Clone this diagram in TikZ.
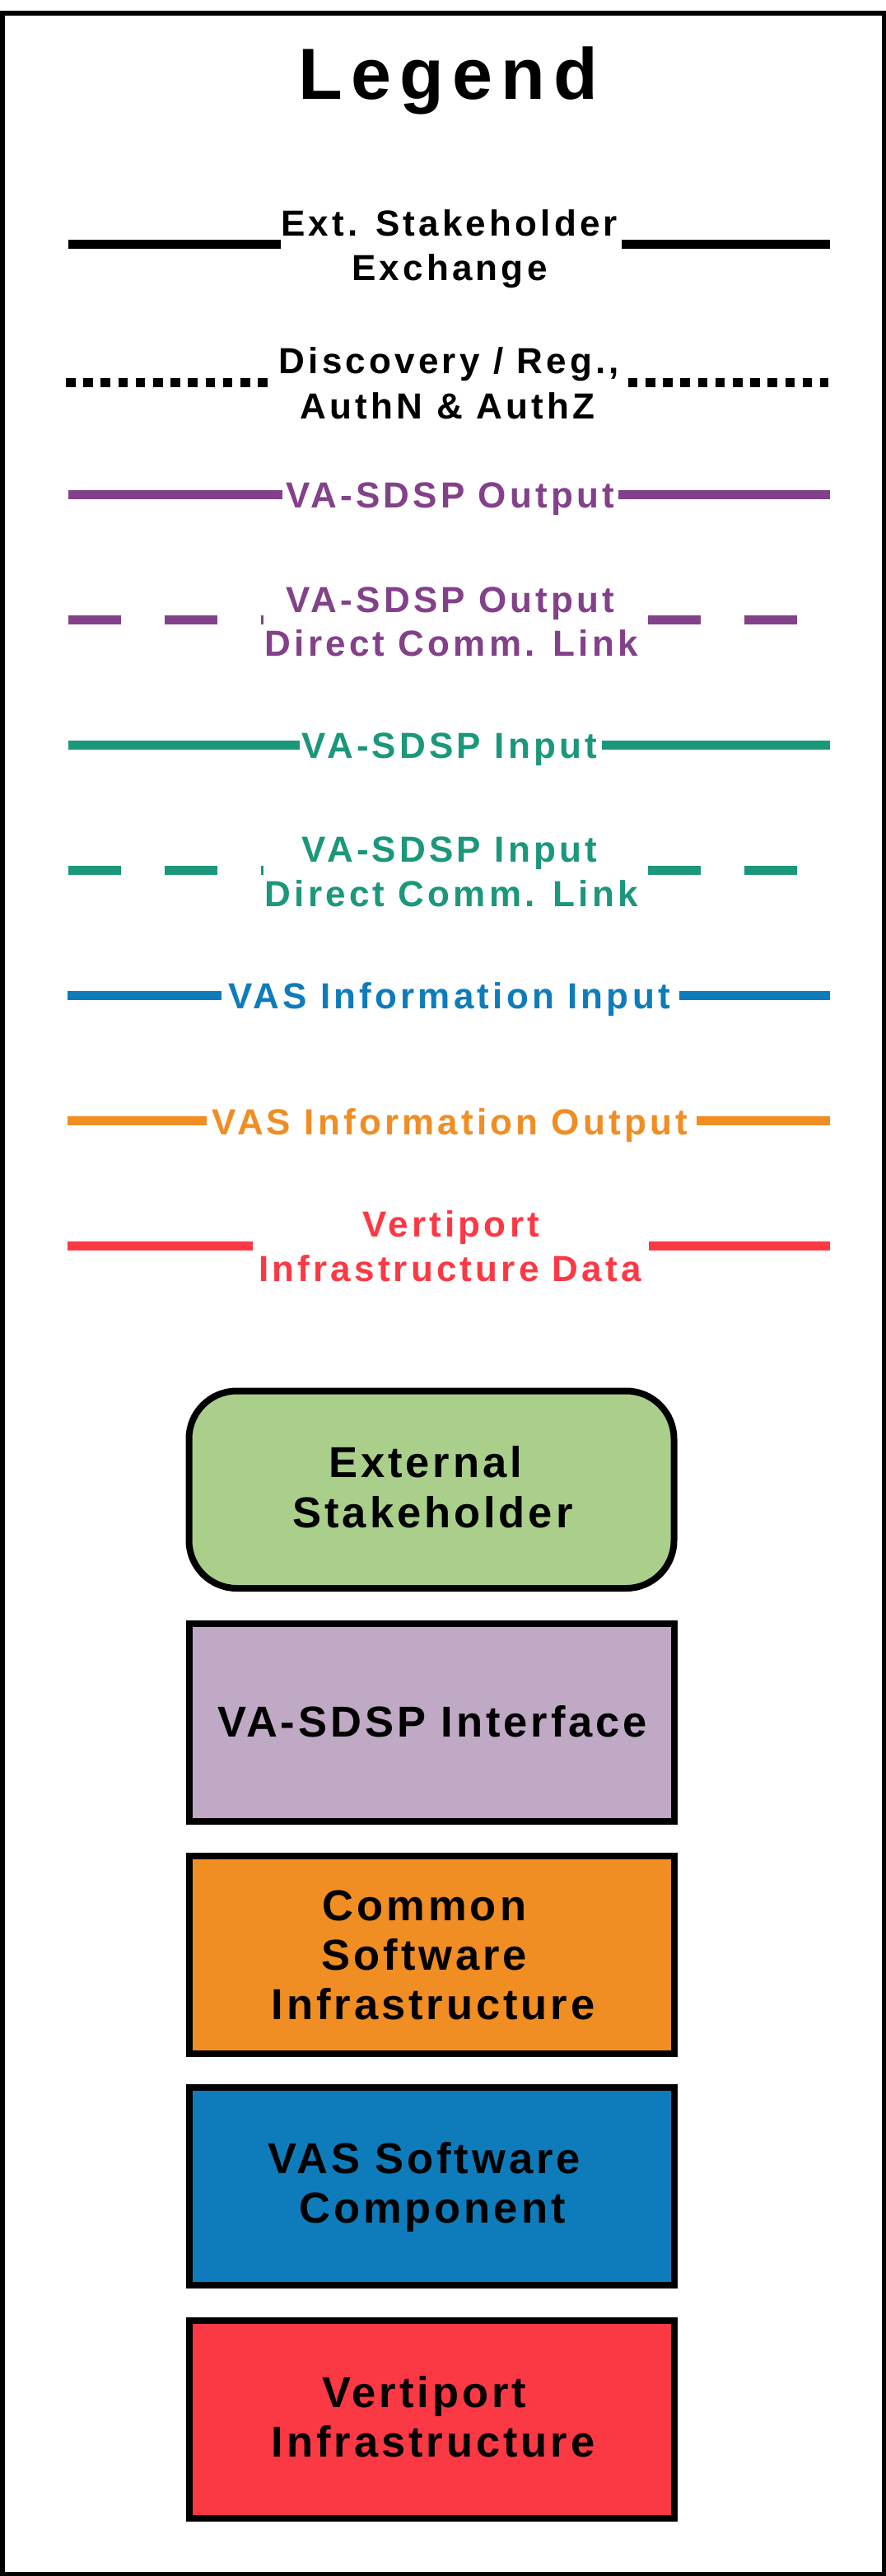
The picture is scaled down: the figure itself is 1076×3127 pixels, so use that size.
\documentclass[tikz,border=0pt]{standalone}
\usepackage{fontspec}
\setmainfont{Liberation Sans}
\newfontfamily\titlefont{Liberation Sans}[LetterSpace=11.5]
\newfontfamily\labelfont{Liberation Sans}[LetterSpace=9.5]
\newfontfamily\boxfont{Liberation Sans}[LetterSpace=7.5]

\definecolor{sdspout}{HTML}{83418A}
\definecolor{sdspin}{HTML}{1B977C}
\definecolor{vasin}{HTML}{0E7CBB}
\definecolor{vasout}{HTML}{F08D23}
\definecolor{vertidata}{HTML}{FB3944}
\definecolor{stakegreen}{HTML}{A9CF8B}
\definecolor{ifacelilac}{HTML}{C0A9C4}

\tikzset{
  legtitle/.style={font=\titlefont\bfseries\fontsize{88}{100}\selectfont, inner sep=0pt, anchor=base},
  lbl/.style={font=\labelfont\bfseries\fontsize{44}{53}\selectfont, inner sep=0pt, anchor=base},
  boxtxt/.style={font=\boxfont\bfseries\fontsize{52.5}{60}\selectfont, inner sep=0pt, anchor=base},
  sample/.style={line width=11pt, line cap=butt},
  dotsample/.style={sample, dash pattern=on 11.6pt off 9.6pt},
  dashsample/.style={sample, dash pattern=on 64pt off 53.3pt},
  compbox/.style={draw=black, line width=8pt, minimum width=589pt, minimum height=239.5pt, inner sep=0pt}
}

\begin{document}
\begin{tikzpicture}[x=1pt,y=-1pt]
\useasboundingbox (0,0) rectangle (1076,3127);
\fill[white] (0,0) rectangle (1076,3127);

% outer frame
\draw[line width=5.5pt] (2.75,16) rectangle (1073.25,3124.5);

% heading
\node[legtitle] (title) at (544.5,120) {Legend};

% external stakeholder exchange
\node[lbl] (ext1) at (545.5,286.7) {Ext. Stakeholder};
\node[lbl] (ext2) at (546,340) {Exchange};
\draw[sample] (82.7,296) -- (341,296);
\draw[sample] (755,296) -- (1008,296);

% discovery / registration, authentication & authorization
\node[lbl] (disc1) at (545.5,453.5) {Discovery / Reg.,};
\node[lbl] (disc2) at (543.5,508) {AuthN \& AuthZ};
\draw[dotsample] (80,464) -- (325.7,464);
\draw[dotsample] (762.7,464) -- (1006,464);

% VA-SDSP output
\node[lbl, text=sdspout] (sout) at (546.5,616.7) {VA-SDSP Output};
\draw[sample, sdspout] (82.7,600) -- (343,600);
\draw[sample, sdspout] (750.7,600) -- (1008,600);

% VA-SDSP output, direct link
\node[lbl, text=sdspout] (soutd1) at (547,743.3) {VA-SDSP Output};
\node[lbl, text=sdspout] (soutd2) at (548.3,796.7) {Direct Comm. Link};
\draw[dashsample, sdspout] (82.7,752) -- (320.3,752);
\draw[dashsample, sdspout] (786.7,752) -- (1008,752);

% VA-SDSP input
\node[lbl, text=sdspin] (sin) at (546,920.7) {VA-SDSP Input};
\draw[sample, sdspin] (82.7,904) -- (364,904);
\draw[sample, sdspin] (731,904) -- (1008,904);

% VA-SDSP input, direct link
\node[lbl, text=sdspin] (sind1) at (546,1046.7) {VA-SDSP Input};
\node[lbl, text=sdspin] (sind2) at (548.3,1100) {Direct Comm. Link};
\draw[dashsample, sdspin] (82.7,1056) -- (320.3,1056);
\draw[dashsample, sdspin] (786.7,1056) -- (1008,1056);

% VAS information input
\node[lbl, text=vasin] (vin) at (545.5,1224.6) {VAS Information Input};
\draw[sample, vasin] (82.4,1208) -- (269,1208);
\draw[sample, vasin] (825,1208) -- (1007.5,1208);

% VAS information output
\node[lbl, text=vasout] (vout) at (546.4,1377.9) {VAS Information Output};
\draw[sample, vasout] (82.4,1360) -- (250.5,1360);
\draw[sample, vasout] (845.5,1360) -- (1007.5,1360);

% vertiport infrastructure data
\node[lbl, text=vertidata] (vd1) at (547.8,1501.4) {Vertiport};
\node[lbl, text=vertidata] (vd2) at (546.6,1555.7) {Infrastructure Data};
\draw[sample, vertidata] (82.4,1512) -- (306.8,1512);
\draw[sample, vertidata] (788,1512) -- (1007.5,1512);

% component boxes
\node[compbox, fill=stakegreen, rounded corners=58pt] (stakebox) at (524,1808.25) {};
\node[boxtxt] (stake1) at (516.5,1793.8) {External};
\node[boxtxt] (stake2) at (525.5,1854.4) {Stakeholder};

\node[compbox, fill=ifacelilac] (ifacebox) at (524,2090.75) {};
\node[boxtxt] (iface1) at (525,2108) {VA-SDSP Interface};

\node[compbox, fill=vasout] (commonbox) at (524,2372.75) {};
\node[boxtxt] (common1) at (515.5,2331.5) {Common};
\node[boxtxt] (common2) at (515.5,2391.5) {Software};
\node[boxtxt] (common3) at (526,2451.5) {Infrastructure};

\node[compbox, fill=vasin] (vasbox) at (524,2653.75) {};
\node[boxtxt] (vas1) at (515,2638) {VAS Software};
\node[boxtxt] (vas2) at (525,2698) {Component};

\node[compbox, fill=vertidata] (vertbox) at (524,2936.75) {};
\node[boxtxt] (vert1) at (515.4,2922) {Vertiport};
\node[boxtxt] (vert2) at (526,2982) {Infrastructure};
\end{tikzpicture}
\end{document}
